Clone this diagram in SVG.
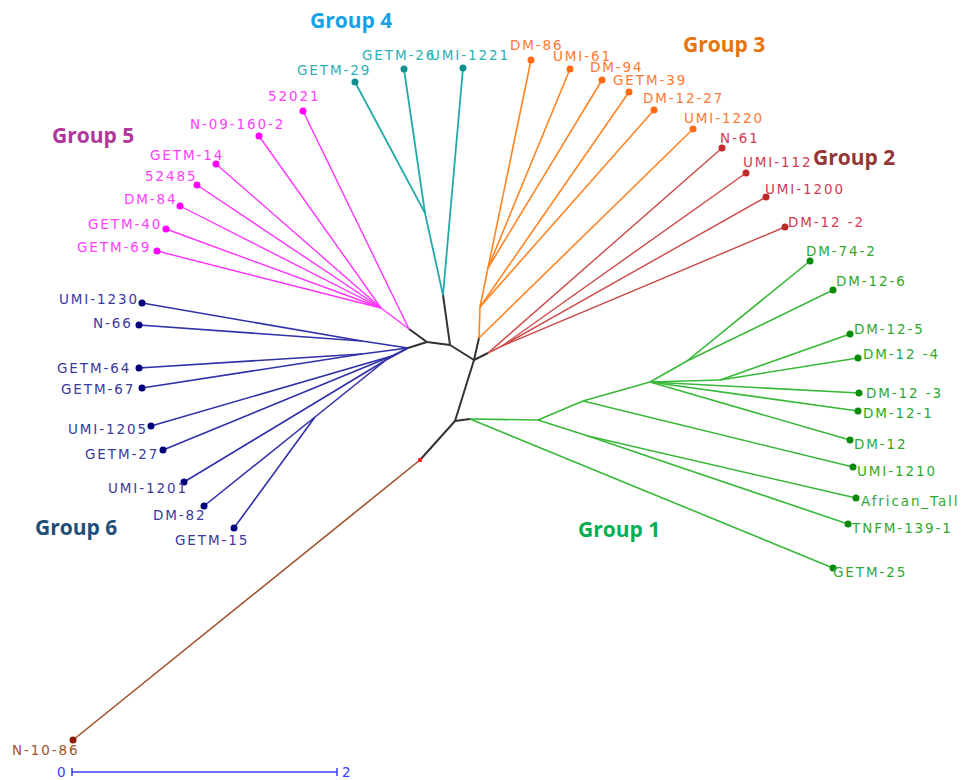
<svg xmlns="http://www.w3.org/2000/svg" width="963" height="780" viewBox="0 0 963 780">
<style>
text{font-family:"DejaVu Sans","Liberation Sans",sans-serif;font-size:13.5px;letter-spacing:1.9px}
.grp{font-family:"Open Sans","Liberation Sans",sans-serif;font-size:21px;font-weight:700;letter-spacing:0}
.bb{stroke:#333;stroke-width:2;fill:none}
.c1{stroke:#38b838;stroke-width:1.6;fill:none}
.c2{stroke:#cc4848;stroke-width:1.4;fill:none}
.c3{stroke:#ff8424;stroke-width:1.6;fill:none}
.c4{stroke:#22aaaa;stroke-width:1.8;fill:none}
.c5{stroke:#ff33ff;stroke-width:1.4;fill:none}
.c6{stroke:#3030a8;stroke-width:1.6;fill:none}
.c7{stroke:#a0522d;stroke-width:1.6;fill:none}
.t1{fill:#30a830}.d1{fill:#0c8a0c}
.t2{fill:#d23a55}.d2{fill:#c0282a}
.t3{fill:#ff7a30}.d3{fill:#ff6a10}
.t4{fill:#2ab0b5}.d4{fill:#0f8f8f}
.t5{fill:#ff40ff}.d5{fill:#ff00ff}
.t6{fill:#3a3a9c}.d6{fill:#00007a}
.t7{fill:#a0522d}.d7{fill:#8b1a00}
</style>
<rect width="963" height="780" fill="#fff"/>
<g id="connectors">
<polyline class="bb" points="420,460 455,421 470,419"/>
<polyline class="bb" points="455,421 474,360 479,338"/>
<line class="bb" x1="474" y1="360" x2="488" y2="353"/>
<polyline class="bb" points="474,360 450,345 443,295"/>
<polyline class="bb" points="450,345 427,342 409,329"/>
<line class="bb" x1="427" y1="342" x2="408" y2="348"/>
<line class="c7" x1="420" y1="460" x2="73" y2="740"/>
<polyline class="c4" points="443,295 425,213 355,82"/>
<line class="c4" x1="425" y1="213" x2="404" y2="69"/>
<line class="c4" x1="443" y1="295" x2="463" y2="68"/>
<line class="c3" x1="479" y1="338" x2="693" y2="129"/>
<line class="c3" x1="479" y1="338" x2="480" y2="307"/>
<line class="c3" x1="480" y1="307" x2="654" y2="110"/>
<line class="c3" x1="480" y1="307" x2="629" y2="92"/>
<line class="c3" x1="480" y1="307" x2="488" y2="268"/>
<line class="c3" x1="488" y1="268" x2="602" y2="80"/>
<line class="c3" x1="488" y1="268" x2="570" y2="69"/>
<line class="c3" x1="488" y1="268" x2="531" y2="60"/>
<line class="c2" x1="488" y1="353" x2="722" y2="148"/>
<line class="c2" x1="488" y1="353" x2="502" y2="346"/>
<line class="c2" x1="502" y1="346" x2="746" y2="173"/>
<line class="c2" x1="502" y1="346" x2="766" y2="197"/>
<line class="c2" x1="502" y1="346" x2="785" y2="227"/>
<line class="c1" x1="470" y1="419" x2="538" y2="420"/>
<line class="c1" x1="470" y1="419" x2="833" y2="568"/>
<line class="c1" x1="538" y1="420" x2="588" y2="436"/>
<line class="c1" x1="588" y1="436" x2="848" y2="524"/>
<line class="c1" x1="588" y1="436" x2="856" y2="498"/>
<line class="c1" x1="538" y1="420" x2="583" y2="401"/>
<line class="c1" x1="583" y1="401" x2="853" y2="467"/>
<line class="c1" x1="583" y1="401" x2="650" y2="382"/>
<line class="c1" x1="650" y1="382" x2="850" y2="440"/>
<line class="c1" x1="650" y1="382" x2="858" y2="411"/>
<line class="c1" x1="650" y1="382" x2="859" y2="393"/>
<line class="c1" x1="650" y1="382" x2="720" y2="380"/>
<line class="c1" x1="720" y1="380" x2="850" y2="334"/>
<line class="c1" x1="720" y1="380" x2="858" y2="358"/>
<line class="c1" x1="650" y1="382" x2="687" y2="361"/>
<line class="c1" x1="687" y1="361" x2="810" y2="261"/>
<line class="c1" x1="687" y1="361" x2="833" y2="290"/>
<line class="c5" x1="409" y1="329" x2="303" y2="111"/>
<line class="c5" x1="409" y1="329" x2="381" y2="308"/>
<line class="c5" x1="381" y1="308" x2="259" y2="136"/>
<line class="c5" x1="381" y1="308" x2="216" y2="164"/>
<line class="c5" x1="381" y1="308" x2="197" y2="185"/>
<line class="c5" x1="381" y1="308" x2="180" y2="206"/>
<line class="c5" x1="381" y1="308" x2="166" y2="229"/>
<line class="c5" x1="381" y1="308" x2="157" y2="251"/>
<line class="c6" x1="408" y1="348" x2="362" y2="341"/>
<line class="c6" x1="362" y1="341" x2="142" y2="303"/>
<line class="c6" x1="362" y1="341" x2="139" y2="325"/>
<line class="c6" x1="408" y1="348" x2="362" y2="354"/>
<line class="c6" x1="362" y1="354" x2="139" y2="368"/>
<line class="c6" x1="362" y1="354" x2="142" y2="388"/>
<line class="c6" x1="408" y1="348" x2="392" y2="356"/>
<line class="c6" x1="392" y1="356" x2="151" y2="426"/>
<line class="c6" x1="392" y1="356" x2="163" y2="450"/>
<line class="c6" x1="408" y1="348" x2="386" y2="360"/>
<line class="c6" x1="386" y1="360" x2="184" y2="482"/>
<line class="c6" x1="386" y1="360" x2="315" y2="417"/>
<line class="c6" x1="315" y1="417" x2="204" y2="506"/>
<line class="c6" x1="315" y1="417" x2="234" y2="528"/>
</g>
<circle cx="420" cy="460" r="2.2" fill="#ff2020"/>
<text class="grp" x="310" y="28" fill="#14a3e6">Group 4</text>
<text class="grp" x="683" y="52" fill="#e8720c">Group 3</text>
<text class="grp" x="813" y="165" fill="#943634">Group 2</text>
<text class="grp" x="52" y="143" fill="#b0359c">Group 5</text>
<text class="grp" x="35" y="535" fill="#1f4e79">Group 6</text>
<text class="grp" x="578" y="537" fill="#00b050">Group 1</text>
<g id="GETM-29"><circle class="d4" cx="355" cy="82" r="3.5"/><text class="t4" x="297" y="75">GETM-29</text></g>
<g id="GETM-26"><circle class="d4" cx="404" cy="69" r="3.5"/><text class="t4" x="362" y="60">GETM-26</text></g>
<g id="UMI-1221"><circle class="d4" cx="463" cy="68" r="3.5"/><text class="t4" x="430" y="60">UMI-1221</text></g>
<g id="DM-86"><circle class="d3" cx="531" cy="60" r="3.5"/><text class="t3" x="510" y="50">DM-86</text></g>
<g id="UMI-61"><circle class="d3" cx="570" cy="69" r="3.5"/><text class="t3" x="553" y="61">UMI-61</text></g>
<g id="DM-94"><circle class="d3" cx="602" cy="80" r="3.5"/><text class="t3" x="590" y="72">DM-94</text></g>
<g id="GETM-39"><circle class="d3" cx="629" cy="92" r="3.5"/><text class="t3" x="613" y="85">GETM-39</text></g>
<g id="DM-12-27"><circle class="d3" cx="654" cy="110" r="3.5"/><text class="t3" x="643" y="103">DM-12-27</text></g>
<g id="UMI-1220"><circle class="d3" cx="693" cy="129" r="3.5"/><text class="t3" x="684" y="123">UMI-1220</text></g>
<g id="N-61"><circle class="d2" cx="722" cy="148" r="3.5"/><text class="t2" x="720" y="143">N-61</text></g>
<g id="UMI-112"><circle class="d2" cx="746" cy="173" r="3.5"/><text class="t2" x="743" y="167">UMI-112</text></g>
<g id="UMI-1200"><circle class="d2" cx="766" cy="197" r="3.5"/><text class="t2" x="765" y="194">UMI-1200</text></g>
<g id="DM-12-2"><circle class="d2" cx="785" cy="227" r="3.5"/><text class="t2" x="788" y="227">DM-12 -2</text></g>
<g id="DM-74-2"><circle class="d1" cx="810" cy="261" r="3.5"/><text class="t1" x="806" y="256">DM-74-2</text></g>
<g id="DM-12-6"><circle class="d1" cx="833" cy="290" r="3.5"/><text class="t1" x="836" y="286">DM-12-6</text></g>
<g id="DM-12-5"><circle class="d1" cx="850" cy="334" r="3.5"/><text class="t1" x="854" y="334">DM-12-5</text></g>
<g id="DM-12-4"><circle class="d1" cx="858" cy="358" r="3.5"/><text class="t1" x="863" y="359">DM-12 -4</text></g>
<g id="DM-12-3"><circle class="d1" cx="859" cy="393" r="3.5"/><text class="t1" x="866" y="398">DM-12 -3</text></g>
<g id="DM-12-1"><circle class="d1" cx="858" cy="411" r="3.5"/><text class="t1" x="863" y="418">DM-12-1</text></g>
<g id="DM-12"><circle class="d1" cx="850" cy="440" r="3.5"/><text class="t1" x="854" y="449">DM-12</text></g>
<g id="UMI-1210"><circle class="d1" cx="853" cy="467" r="3.5"/><text class="t1" x="857" y="476">UMI-1210</text></g>
<g id="African_Tall"><circle class="d1" cx="856" cy="498" r="3.5"/><text class="t1" x="861" y="506">African_Tall</text></g>
<g id="TNFM-139-1"><circle class="d1" cx="848" cy="524" r="3.5"/><text class="t1" x="852" y="533">TNFM-139-1</text></g>
<g id="GETM-25"><circle class="d1" cx="833" cy="568" r="3.5"/><text class="t1" x="833" y="577">GETM-25</text></g>
<g id="n52021"><circle class="d5" cx="303" cy="111" r="3.5"/><text class="t5" x="268" y="101">52021</text></g>
<g id="N-09-160-2"><circle class="d5" cx="259" cy="136" r="3.5"/><text class="t5" x="190" y="129">N-09-160-2</text></g>
<g id="GETM-14"><circle class="d5" cx="216" cy="164" r="3.5"/><text class="t5" x="150" y="160">GETM-14</text></g>
<g id="n52485"><circle class="d5" cx="197" cy="185" r="3.5"/><text class="t5" x="145" y="181">52485</text></g>
<g id="DM-84"><circle class="d5" cx="180" cy="206" r="3.5"/><text class="t5" x="124" y="204">DM-84</text></g>
<g id="GETM-40"><circle class="d5" cx="166" cy="229" r="3.5"/><text class="t5" x="88" y="229">GETM-40</text></g>
<g id="GETM-69"><circle class="d5" cx="157" cy="251" r="3.5"/><text class="t5" x="77" y="252">GETM-69</text></g>
<g id="UMI-1230"><circle class="d6" cx="142" cy="303" r="3.5"/><text class="t6" x="59" y="304">UMI-1230</text></g>
<g id="N-66"><circle class="d6" cx="139" cy="325" r="3.5"/><text class="t6" x="93" y="328">N-66</text></g>
<g id="GETM-64"><circle class="d6" cx="139" cy="368" r="3.5"/><text class="t6" x="57" y="373">GETM-64</text></g>
<g id="GETM-67"><circle class="d6" cx="142" cy="388" r="3.5"/><text class="t6" x="61" y="394">GETM-67</text></g>
<g id="UMI-1205"><circle class="d6" cx="151" cy="426" r="3.5"/><text class="t6" x="68" y="434">UMI-1205</text></g>
<g id="GETM-27"><circle class="d6" cx="163" cy="450" r="3.5"/><text class="t6" x="85" y="459">GETM-27</text></g>
<g id="UMI-1201"><circle class="d6" cx="184" cy="482" r="3.5"/><text class="t6" x="108" y="493">UMI-1201</text></g>
<g id="DM-82"><circle class="d6" cx="204" cy="506" r="3.5"/><text class="t6" x="153" y="520">DM-82</text></g>
<g id="GETM-15"><circle class="d6" cx="234" cy="528" r="3.5"/><text class="t6" x="175" y="545">GETM-15</text></g>
<g id="N-10-86"><circle class="d7" cx="73" cy="740" r="3.5"/><text class="t7" x="12" y="755">N-10-86</text></g>
<g id="scale">
<line x1="72" y1="772" x2="337" y2="772" stroke="#3a3aff" stroke-width="1.5"/>
<line x1="72" y1="768" x2="72" y2="776" stroke="#3a3aff" stroke-width="1.5"/>
<line x1="337" y1="768" x2="337" y2="776" stroke="#3a3aff" stroke-width="1.5"/>
<text x="57" y="777" fill="#3a3aff">0</text>
<text x="342" y="777" fill="#3a3aff">2</text>
</g>
</svg>
